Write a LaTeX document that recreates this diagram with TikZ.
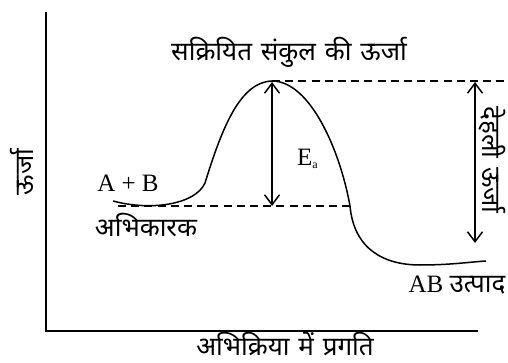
\documentclass[tikz,border=0pt]{standalone}
\usepackage{fontspec}
\setmainfont{Liberation Serif}
\newfontfamily\dev[Script=Devanagari, WordSpace=1.3]{Noto Sans}
\usetikzlibrary{arrows.meta}

\begin{document}
\begin{tikzpicture}[
  x=0.5pt, y=-0.5pt,
  every node/.style={font=\fontsize{12.5}{15}\selectfont, inner sep=0pt},
  hin/.style={font=\dev\fontsize{13}{15}\selectfont},
  ax/.style={line width=0.8pt},
  crv/.style={line width=0.75pt},
  lvl/.style={line width=0.7pt, dashed, dash pattern=on 4pt off 2.6pt},
  arr/.style={{Straight Barb[length=5pt,width=7.5pt]}-{Straight Barb[length=5pt,width=7.5pt]}, line width=0.75pt},
]
\useasboundingbox (0,0) rectangle (508,363);

% axes
\coordinate (top) at (46,12);
\coordinate (org) at (46,331);
\coordinate (xend) at (478,331);
\draw[ax] (top) -- (org) -- (xend);

% energy profile
\coordinate (rct) at (113,201);
\coordinate (kink) at (205,183);
\coordinate (peak) at (272,81);
\coordinate (drop) at (350,206);
\coordinate (low) at (420,265);
\coordinate (prd) at (486,261);
\draw[crv] (rct) .. controls (150,211) and (195,205) .. (kink)
  .. controls (222,128) and (240,82) .. (peak)
  .. controls (310,81) and (340,150) .. (drop)
  .. controls (354,250) and (385,265) .. (low)
  .. controls (450,265) and (470,262) .. (prd);

% levels
\coordinate (rlvl) at (118,206);
\coordinate (tlvl) at (504,81);
\draw[lvl] (rlvl) -- (drop);
\draw[lvl] (peak) -- (tlvl);

% arrows
\coordinate (ea1) at (272,82);
\coordinate (ea2) at (272,206);
\coordinate (th1) at (475,82);
\coordinate (th2) at (475,243);
\draw[arr] (ea1) -- (ea2);
\draw[arr] (th1) -- (th2);

% labels
\node[hin] (tsl) at (289,52) {सक्रियित संकुल की ऊर्जा};
\node (ab) at (128,183) {A + B};
\node[hin] (rl) at (146,225) {अभिकारक};
\node (ea) at (308,159) {E\textsubscript{\fontsize{6}{7}\selectfont a}};
\node (pl) at (457,285) {AB {\dev\fontsize{13}{15}\selectfont उत्पाद}};
\node[hin] (xl) at (285,344) {अभिक्रिया में प्रगति};
\node[hin, rotate=90] (yl) at (22,172) {ऊर्जा};
\node[hin, rotate=-90] (thl) at (492,160) {देहली ऊर्जा};
\end{tikzpicture}
\end{document}
